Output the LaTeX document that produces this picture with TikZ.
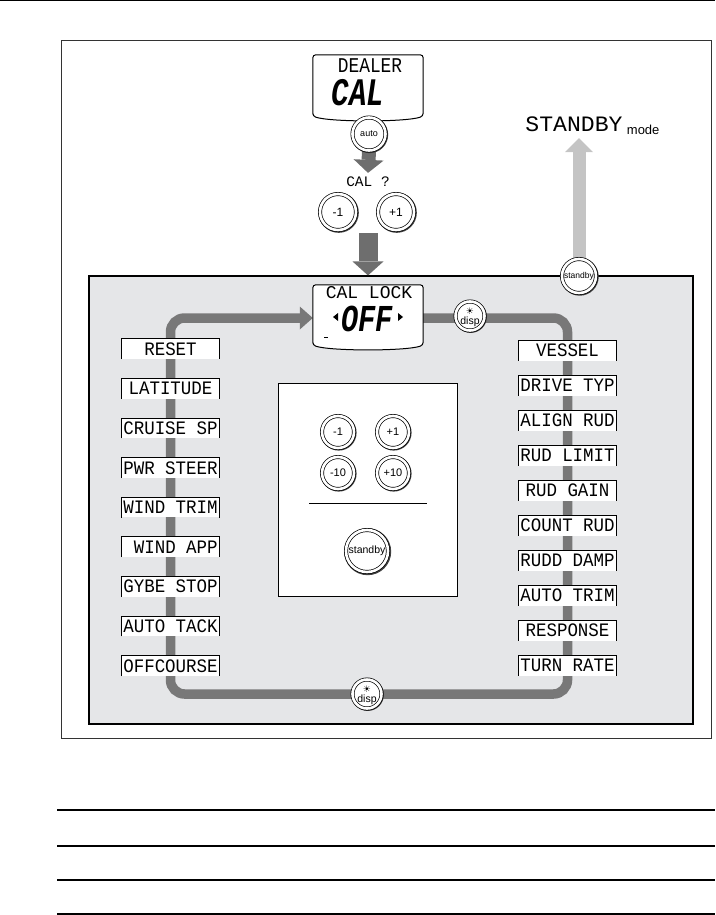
\documentclass[tikz,border=0pt]{standalone}
\usepackage{fontspec}
\setmainfont{Liberation Sans}
\newfontfamily\lcdA[FakeStretch=0.92]{Liberation Mono}
\newfontfamily\lcdB{Liberation Mono}
\newfontfamily\lcdC[FakeStretch=0.75]{Liberation Mono}
\newfontfamily\lcdD[FakeStretch=0.85]{Liberation Mono}
\newfontfamily\lcdE[FakeStretch=1.05]{Liberation Mono}
\newfontfamily\symfont{DejaVu Sans}
\usetikzlibrary{arrows.meta,calc,shadows}
\definecolor{panelgray}{HTML}{E5E6E8}
\definecolor{trackgray}{HTML}{787878}
\definecolor{arrowdark}{HTML}{6E6E6E}
\definecolor{arrowlight}{HTML}{C4C4C4}
\pgfdeclarelayer{bg}
\pgfdeclarelayer{mid}
\pgfsetlayers{bg,mid,main}
\begin{document}
\begin{tikzpicture}[x=1pt,y=-1pt,
  btn/.style={circle,draw=black,line width=0.7pt,double=white,double distance=2.6pt,fill=white,inner sep=0pt,
    drop shadow={shadow xshift=0.6pt,shadow yshift=-0.6pt,shadow scale=1.12,fill=black!75,opacity=1}},
  item/.style={fill=white,minimum width=97pt,minimum height=20pt,inner sep=0pt,font=\lcdA\fontsize{19}{19}\selectfont},
  itemedge/.style={line width=0.8pt},
  track/.style={draw=trackgray,line width=9.5pt,rounded corners=14pt},
  darrow/.style={draw=arrowdark,line width=#1},
  larrow/.style={draw=arrowlight,line width=#1},
  dispbox/.style={draw=black,line width=1pt,fill=white,rounded corners=3pt},
  lcdtext/.style={inner sep=0pt},
  smalltxt/.style={inner sep=0pt,font=\fontsize{#1}{#1}\selectfont}
]
\useasboundingbox (0,0) rectangle (715,915);
% page rules and frame
\draw[line width=1.5pt] (0,0.75) -- (715,0.75);
\draw[draw=black!80,line width=1pt] (61,41) rectangle (711,738);
\foreach \yy in {810,846,880,914} \draw[line width=1.1pt] (57,\yy) -- (715,\yy);

% panel
\begin{pgfonlayer}{bg}
\node[draw=black,line width=1.1pt,fill=panelgray,minimum width=604pt,minimum height=448pt,inner sep=0pt] (panel) at (391,500) {};
\end{pgfonlayer}

% DEALER CAL display
\node[minimum width=110pt,minimum height=61pt,inner sep=0pt] (dealer) at (368,85.5) {};
\draw[dispbox] (dealer.south west) -- (dealer.north west) -- (dealer.north east) -- (dealer.south east)
  .. controls ($(dealer.south east)+(-18,6)$) and ($(dealer.south west)+(18,6)$) .. (dealer.south west) -- cycle;
\node[lcdtext,font=\lcdD\fontsize{21}{21}\selectfont] (dealertxt) at (370,66) {DEALER};
\node[lcdtext,font=\lcdC\bfseries\itshape\fontsize{39}{39}\selectfont] (caltxt) at (358,93) {CAL};
\node[btn,minimum size=33pt,font=\fontsize{9}{9}\selectfont] (auto) at (369,134) {auto};

% CAL ?
\node[lcdtext,font=\lcdB\fontsize{14.5}{14.5}\selectfont] (calq) at (368,182) {CAL~?};
\node[btn,minimum size=36pt,font=\fontsize{12}{12}\selectfont] (m1) at (338,212) {-1};
\node[btn,minimum size=36pt,font=\fontsize{12}{12}\selectfont] (p1) at (396,212) {+1};
\coordinate (bigstart) at (368,233);

% STANDBY mode
\node[lcdtext,font=\lcdE\fontsize{22}{22}\selectfont] (sbtxt) at (574,124.5) {STANDBY};
\node[anchor=base west,smalltxt=13] (modetxt) at ($(sbtxt.base east)+(4,3)$) {mode};
\node[btn,minimum size=34pt,font=\fontsize{8.5}{8.5}\selectfont] (sb) at (579,276) {standby};

% CAL LOCK display
\node[minimum width=110pt,minimum height=60pt,inner sep=0pt] (lock) at (368,315) {};
\draw[dispbox] (lock.south west) -- (lock.north west) -- (lock.north east) -- (lock.south east)
  .. controls ($(lock.south east)+(-18,6)$) and ($(lock.south west)+(18,6)$) .. (lock.south west) -- cycle;
\node[lcdtext,font=\lcdB\fontsize{18}{18}\selectfont] (locktxt) at (369,293) {CAL~LOCK};
\node[lcdtext,font=\lcdC\bfseries\itshape\fontsize{38}{38}\selectfont] (offtxt) at (367,319) {OFF};
\fill (333,317) -- (338,313) -- (338,321) -- cycle;
\fill (403,317) -- (398,313) -- (398,321) -- cycle;
\draw[line width=1pt] (324,337) -- (328,337);

% disp buttons
\node[btn,minimum size=29pt] (disp1) at (470,316) {};
\node[smalltxt=9,font=\symfont\fontsize{9}{9}\selectfont] at ($(disp1)+(0,-5)$) {☀};
\node[smalltxt=10.5] at ($(disp1)+(0,6)$) {disp};
\node[btn,minimum size=29pt] (disp2) at (367,694) {};
\node[smalltxt=9,font=\symfont\fontsize{9}{9}\selectfont] at ($(disp2)+(0,-5)$) {☀};
\node[smalltxt=10.5] at ($(disp2)+(0,6)$) {disp};

% track corners
\coordinate (tl) at (170.5,318);
\coordinate (tr) at (567.5,318);
\coordinate (br) at (567.5,694);
\coordinate (bl) at (170.5,694);

% left list
\foreach \t [count=\i from 0] in {RESET,LATITUDE~,CRUISE~SP,PWR~STEER,WIND~TRIM,~WIND~APP,GYBE~STOP,AUTO~TACK,OFFCOURSE}{
  \node[item] (L\i) at (170.5,349+39.6*\i) {\t};
  \draw[itemedge] (L\i.south west) -- (L\i.north west) -- (L\i.north east) -- (L\i.south east);
}
% right list
\foreach \t [count=\i from 0] in {VESSEL,DRIVE~TYP,ALIGN~RUD,RUD~LIMIT,RUD~GAIN,COUNT~RUD,RUDD~DAMP,AUTO~TRIM,RESPONSE~,TURN~RATE}{
  \node[item] (R\i) at (567.5,350.5+35*\i) {\t};
  \draw[itemedge] (R\i.south west) -- (R\i.north west) -- (R\i.north east) -- (R\i.south east);
}

% central key box
\node[draw=black,line width=0.9pt,fill=white,minimum width=179pt,minimum height=213pt,inner sep=0pt] (keys) at (367.5,489.5) {};
\node[btn,minimum size=32pt,font=\fontsize{11}{11}\selectfont] (km1) at (338,432) {-1};
\node[btn,minimum size=32pt,font=\fontsize{11}{11}\selectfont] (kp1) at (393,432) {+1};
\node[btn,minimum size=32pt,font=\fontsize{11}{11}\selectfont] (km10) at (338,473) {-10};
\node[btn,minimum size=32pt,font=\fontsize{11}{11}\selectfont] (kp10) at (393,473) {+10};
\draw[line width=0.9pt] (309,503) -- (427,503);
\node[btn,minimum size=42pt,font=\fontsize{10.5}{10.5}\selectfont] (ksb) at (367,551) {standby};

% arrows and track
\begin{pgfonlayer}{mid}
\draw[darrow=14pt,-{Triangle[length=13pt,width=30pt,line width=0pt]}] (auto.south) -- ($(calq.north)+(0,-4)$);
\draw[darrow=19pt,-{Triangle[length=14pt,width=31pt,line width=0pt]}] (bigstart) -- (bigstart |- panel.north);
\draw[larrow=13pt,-{Triangle[length=14pt,width=28pt,line width=0pt]}] (sb.center) -- ($(sb.center |- sbtxt.south)+(0,6)$);
\draw[track,-{Triangle[length=13pt,width=23pt,line width=0pt]}] ($(lock.east)+(0,3)$) -- (tr) -- (br) -- (bl) -- (tl) -- ($(lock.west)+(0,3)$);
\end{pgfonlayer}
\end{tikzpicture}
\end{document}
